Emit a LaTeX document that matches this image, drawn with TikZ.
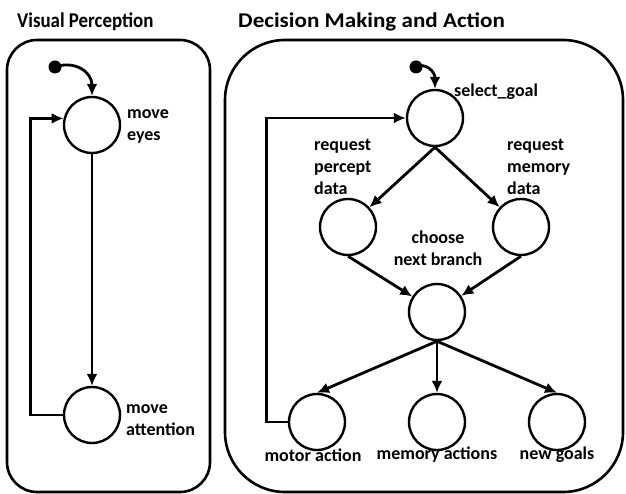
\documentclass[tikz,border=0pt]{standalone}
\usepackage{fontspec}
\setmainfont{Carlito}
\usepackage{graphicx}
\usepackage{tikz}
\usetikzlibrary{arrows.meta,positioning}

\begin{document}
\begin{tikzpicture}[x=1pt,y=-1pt,>={Latex[length=12pt,width=11pt]},
    state/.style={circle,draw,line width=2.4pt,minimum size=56pt,inner sep=0pt},
    flow/.style={->,line width=2.8pt},
    panel/.style={draw,line width=2.6pt},
    lbl/.style={font=\bfseries\fontsize{18}{22}\selectfont,align=left,inner sep=0pt},
    head/.style={font=\bfseries\fontsize{21}{24}\selectfont,inner sep=0pt,anchor=west}]
  \useasboundingbox (0,0) rectangle (626,494);
  % panels
  \draw[panel,rounded corners=30pt] (7,40) rectangle (210,492);
  \draw[panel,rounded corners=60pt] (225,40) rectangle (623,492);
  \node[head] (vtitle) at (17,22) {\scalebox{0.9}[1]{Visual Perception}};
  \node[head] (dtitle) at (238,22) {\scalebox{1.1}[1]{Decision Making and Action}};
  % visual perception
  \coordinate (vstart) at (55,67);
  \fill (vstart) circle (6.5pt);
  \node[state] (eyes) at (92,125) {};
  \node[state] (attn) at (92,415) {};
  \node[lbl,anchor=west] (eyeslbl) at (127,126) {move\\eyes};
  \node[lbl,anchor=west] (attnlbl) at (126,420) {move\\attention};
  \draw[flow] (vstart) .. controls (75,60) and (92,72) .. (eyes.north);
  \draw[flow] (eyes) -- (attn);
  \draw[flow] (attn.west) -- ++(-32,0) |- (eyes.167);
  % decision making and action
  \coordinate (dstart) at (416,67);
  \fill (dstart) circle (6.5pt);
  \node[state] (goal) at (435,118) {};
  \node[state] (percept) at (348,227) {};
  \node[state] (memory) at (521,227) {};
  \node[state] (choose) at (437,312) {};
  \node[state] (motor) at (317,422) {};
  \node[state] (memact) at (437,422) {};
  \node[state] (newgoal) at (557,422) {};
  \node[lbl,anchor=west] (goallbl) at (454,92) {select\_goal};
  \node[lbl,anchor=west] (perceptlbl) at (314,167) {request\\percept\\data};
  \node[lbl,anchor=west] (memorylbl) at (507,167) {request\\memory\\data};
  \node[lbl,align=center] (chooselbl) at (438,248) {choose\\next branch};
  \node[lbl] (motorlbl) at (313,455) {motor action};
  \node[lbl] (memactlbl) at (437,455) {memory actions};
  \node[lbl] (newgoallbl) at (557,455) {new goals};
  \draw[flow] (dstart) .. controls (426,62) and (435,72) .. (goal.north);
  \draw[flow] (goal.south) -- (percept);
  \draw[flow] (goal.south) -- (memory);
  \draw[flow] (percept.south) -- (choose);
  \draw[flow] (memory.south) -- (choose);
  \draw[flow] (choose.south) -- (motor.north);
  \draw[flow] (choose.south) -- (memact);
  \draw[flow] (choose.south) -- (newgoal.north);
  \draw[flow] (motor.west) -- ++(-21,0) |- (goal.west);
\end{tikzpicture}
\end{document}
